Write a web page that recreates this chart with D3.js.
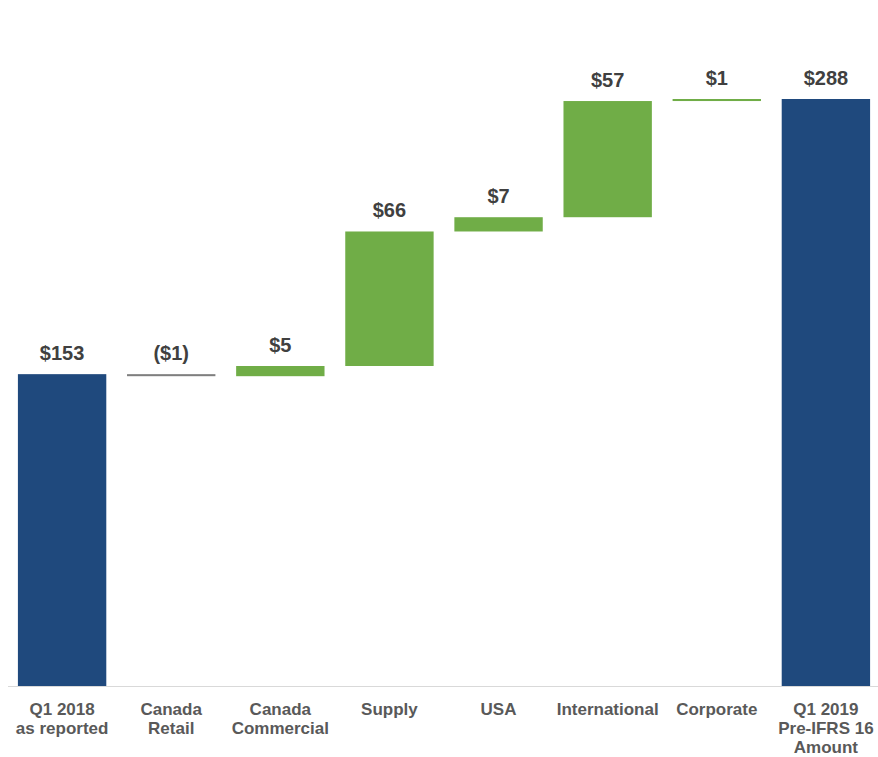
<!DOCTYPE html>
<html>
<head>
<meta charset="utf-8">
<script src="https://cdn.jsdelivr.net/npm/d3@7"></script>
<style>
  body { margin: 0; background: #fff; }
  svg { display: block; font-family: "Liberation Sans", Arial, sans-serif; }
</style>
</head>
<body>
<div id="chart"></div>
<script>
// waterfall data
const categories = [
  ['Q1 2018', 'as reported'],
  ['Canada', 'Retail'],
  ['Canada', 'Commercial'],
  ['Supply'],
  ['USA'],
  ['International'],
  ['Corporate'],
  ['Q1 2019', 'Pre-IFRS 16', 'Amount']
];
const values = [153, -1, 5, 66, 7, 57, 1, 288];
const kinds = ['total', 'delta', 'delta', 'delta', 'delta', 'delta', 'delta', 'total'];
const valueLabels = ['$153', '($1)', '$5', '$66', '$7', '$57', '$1', '$288'];

const width = 878, height = 757;
const baseY = 686, topY = 99;

const svg = d3.select('#chart').append('svg')
  .attr('width', width)
  .attr('height', height);

// build start/end for each bar
let running = 0;
const rows = values.map((v, i) => {
  let start, end;
  if (kinds[i] === 'total') { start = 0; end = v; running = v; }
  else { start = running; end = running + v; running = end; }
  return { i, v, start, end, kind: kinds[i], label: valueLabels[i], cat: categories[i] };
});

const x = d3.scaleBand()
  .domain(d3.range(categories.length))
  .range([7, 881])
  .paddingInner(0.19)
  .paddingOuter(0.1);

const y = d3.scaleLinear()
  .domain([0, 288])
  .range([baseY, topY]);

const color = d => d.kind === 'total' ? '#1f497d' : (d.v < 0 ? '#7f7f7f' : '#70ad47');

svg.selectAll('.bar')
  .data(rows)
  .enter().append('rect')
  .attr('class', 'bar')
  .attr('x', d => x(d.i))
  .attr('width', x.bandwidth())
  .attr('y', d => Math.min(y(d.start), y(d.end)))
  .attr('height', d => Math.max(2, Math.abs(y(d.start) - y(d.end))))
  .attr('fill', color);

// axis line
svg.append('line')
  .attr('x1', 8).attr('x2', width)
  .attr('y1', baseY + 0.5).attr('y2', baseY + 0.5)
  .attr('stroke', '#d9d9d9')
  .attr('stroke-width', 1.2);

// value labels
svg.selectAll('.val')
  .data(rows)
  .enter().append('text')
  .attr('class', 'val')
  .attr('x', d => x(d.i) + x.bandwidth() / 2)
  .attr('y', d => Math.min(y(d.start), y(d.end)) - 14)
  .attr('text-anchor', 'middle')
  .style('font-size', '20px')
  .style('font-weight', 'bold')
  .style('fill', '#404040')
  .text(d => d.label);

// category labels
const catText = svg.selectAll('.cat')
  .data(rows)
  .enter().append('text')
  .attr('class', 'cat')
  .attr('x', d => x(d.i) + x.bandwidth() / 2)
  .attr('y', 715)
  .attr('text-anchor', 'middle')
  .style('font-size', '17px')
  .style('font-weight', 'bold')
  .style('fill', '#595959');

catText.selectAll('tspan')
  .data(d => d.cat.map(t => ({ t, xc: x(d.i) + x.bandwidth() / 2 })))
  .enter().append('tspan')
  .attr('x', d => d.xc)
  .attr('dy', (d, j) => j === 0 ? 0 : 19)
  .text(d => d.t);
</script>
</body>
</html>
